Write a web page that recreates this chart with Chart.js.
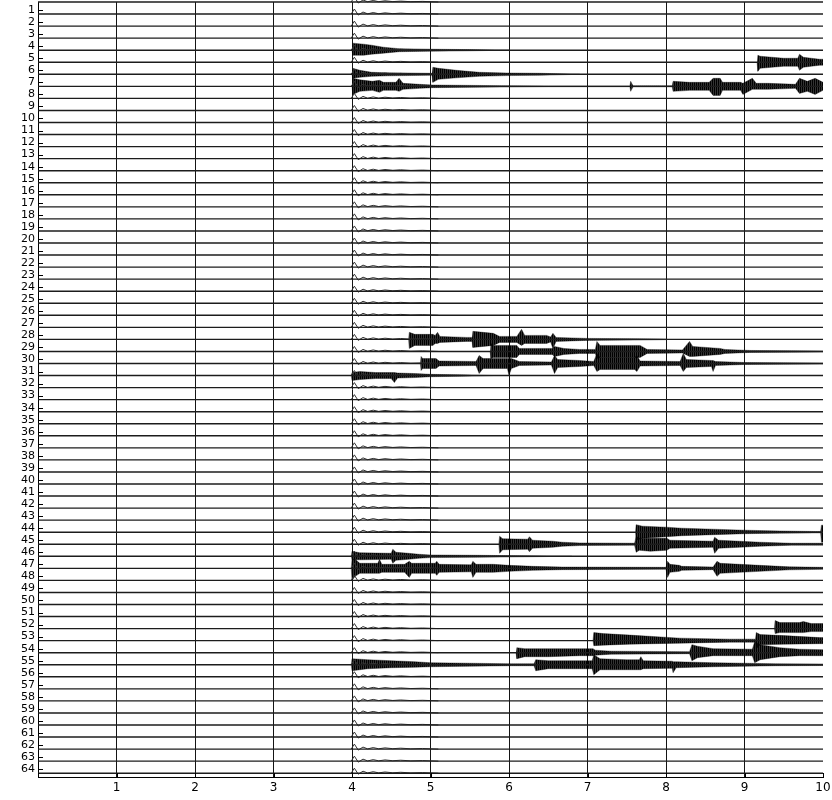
<!DOCTYPE html>
<html><head><meta charset="utf-8">
<script src="https://cdn.jsdelivr.net/npm/chart.js@4.4.0/dist/chart.umd.min.js"></script>
<style>html,body{margin:0;padding:0;background:#fff;}canvas{display:block;}</style>
</head><body>
<canvas id="c" width="832" height="800"></canvas>
<script>
// ---------- DATA ----------
// y tick labels (channels)
const channelLabels = ['1','2','3','4','5','6','7','8','9','10','11','12','13','14','15','16','17','18','19','20',
 '21','22','23','24','25','26','27','28','29','30','31','32','33','34','35','36','37','38','39','40',
 '41','42','43','44','45','46','47','48','49','50','51','52','53','54','55','56','57','58','59','60',
 '61','62','63','64'];
// x tick values and labels (seconds)
const timeTicks = [0,1,2,3,4,5,6,7,8,9,10];
const timeLabels = ['','1','2','3','4','5','6','7','8','9','10'];
// traces drawn (channel 0 is the unlabelled top trace)
const traceChannels = [0,1,2,3,4,5,6,7,8,9,10,11,12,13,14,15,16,17,18,19,20,21,22,23,24,25,26,27,28,29,30,31,32,
 33,34,35,36,37,38,39,40,41,42,43,44,45,46,47,48,49,50,51,52,53,54,55,56,57,58,59,60,61,62,63,64];
// common onset response seen on every trace (time, amplitude; + = up)
const onsetTime = [3.99,4.03,4.08,4.14,4.20,4.27,4.34,4.42,4.52,4.62,4.75,4.90,5.10];
const onsetAmp  = [0,   5,   -1,  2,   0.2, 1.5, 0.3, 1.2, 0.4, 0.9, 0.3, 0.6, 0];

// burst envelopes: [time, upper amplitude, lower amplitude]
const burstCh4 = [[4.0,0,0],[4.01,7,5],[4.15,6,5],[4.25,5,4],[4.4,3,3],[4.6,1.5,1.5],[5.0,1,1],[5.5,0.6,0.6],[6.0,0,0]];
const burstCh5 = [[9.16,0,0],[9.17,7,9],[9.2,6,6],[9.5,4,4],[9.68,4,4],[9.7,8,8],[9.75,5,5],[9.85,4,4],[9.96,3,3],[10,3,3]];
const burstCh6 = [[4.0,0,0],[4.01,6,4],[4.1,4,3],[4.25,2,2],[4.45,1.5,1.5],[5.0,1,1],[5.02,1,1],[5.03,7,8],[5.1,6,5],
 [5.33,4,3.5],[5.62,2,2],[5.97,1.3,1.3],[6.4,1,1],[6.9,0,0]];
const burstCh7 = [[4.0,0,0],[4.01,8,8],[4.1,6.5,5],[4.26,5,4],[4.35,6,6],[4.4,4,4],[4.56,4,4],[4.6,8,5],[4.65,3,3],
 [4.86,2,2],[5.03,1.3,1.3],[5.9,0.7,0.7],[6.5,0.4,0.4],[7.54,0.4,0.4],[7.55,5,5],[7.58,0.5,0.5],[8.08,0.5,0.5],
 [8.09,5,5],[8.3,4,4],[8.55,4,4],[8.6,8,9],[8.69,8,9],[8.72,4,4],[8.95,4,4],[8.98,3,8],[9.1,8,3],[9.15,3,3],
 [9.3,3,3],[9.65,2,2],[9.7,8,7],[9.8,5,5],[9.9,8,8],[10,4,4]];
const burstCh28 = [[4.72,0,0],[4.73,7,9],[4.8,5,6],[5.03,5,6],[5.06,4,4],[5.09,7,4],[5.12,3,3],[5.46,2,2],[5.53,2,2],
 [5.54,8,8],[5.8,6,6],[5.88,3,3],[6.1,3,3],[6.16,10,6],[6.2,4,4],[6.48,4,4],[6.53,2.5,2.5],[6.56,6,9],[6.6,2,2],
 [6.99,1,1],[7.6,0.7,0.7],[8.0,0.3,0.3]];
const burstCh29 = [[5.76,0,0],[5.77,8,7],[5.8,6,6],[6.1,6,6],[6.13,3,3],[6.55,3,3],[6.58,5,5],[6.7,3,3],[6.9,2,2],
 [7.1,2,2],[7.12,10,7],[7.16,6,6],[7.67,6,6],[7.76,2,2],[8.21,1.5,1.5],[8.3,10,5],[8.34,5,5],[8.69,3,3],[8.75,2,2],
 [9.07,1,1],[9.6,0.7,0.7],[10,0.5,0.5]];
const burstCh30 = [[4.87,0,0],[4.88,7,7],[4.9,5,5],[5.07,5,5],[5.11,2.5,2.5],[5.58,2,2],[5.62,8,10],[5.67,5,5],
 [5.98,5,5],[6.0,5,12],[6.03,5,5],[6.1,3,3],[6.13,2,2],[6.54,1.5,1.5],[6.58,8,10],[6.62,4,4],[6.9,3,3],[7.08,2,2],
 [7.12,10,8],[7.16,6,6],[7.6,6,6],[7.63,8,8],[7.67,2.5,2.5],[8.18,2,2],[8.22,10,8],[8.26,4,4],[8.58,3,3],[8.6,3,8],
 [8.63,2,2],[9.0,1,1],[9.5,0.7,0.7],[10,0.5,0.5]];
const burstCh31 = [[3.99,0,0],[4.0,3,5],[4.1,4,4],[4.3,3,3],[4.5,3,3],[4.54,3,7],[4.58,2.5,2.5],[4.8,2,2],
 [5.0,1.2,1.2],[5.4,0.7,0.7],[5.8,0,0]];
const burstCh44 = [[7.61,0,0],[7.62,7.5,8],[7.7,6,6],[8.0,5,4.5],[8.2,4,3.5],[8.6,3,2.5],[9.0,2,1.5],[9.45,1.2,1],
 [9.9,0.7,0.7],[9.97,0.7,0.7],[9.98,7,10],[10,7,10]];
const burstCh45 = [[5.87,0,0],[5.88,8,9],[5.92,5.5,5.5],[6.24,5,5],[6.26,7.5,7.5],[6.3,4,4],[6.56,3,3],[6.68,2,2],
 [6.9,1.3,1.3],[7.6,1,1],[7.62,8,8],[7.66,6,6],[7.8,6,7],[8.01,6,6],[8.05,4,4],[8.6,3,3],[8.62,7,9],[8.67,4,4],
 [8.94,3,3],[9.2,2,2],[9.6,1,1],[10,1,1]];
const burstCh46 = [[3.99,0,0],[4.0,5,3.5],[4.1,3.5,3.5],[4.5,3,3],[4.52,7,7],[4.56,4,4],[4.72,3,3],[4.85,2,2],
 [5.0,1.3,1.3],[5.6,1,1],[6.2,0.5,0.5],[6.8,0,0]];
const burstCh47 = [[3.99,0,0],[4.0,9,12],[4.04,9,8],[4.1,5,5],[4.33,5,5],[4.35,9,5],[4.38,4,4],[4.67,4,4],[4.73,7,9],
 [4.76,5,5],[5.06,5,5],[5.08,7,7],[5.11,4,4],[5.52,3.5,3.5],[5.54,7,9],[5.58,4,4],[5.8,4,4],[6.0,3,3],[6.3,2,2],
 [6.68,1.3,1.3],[8.0,1,1],[8.02,7,9],[8.05,4,4],[8.17,3,3],[8.2,2,2],[8.6,1.3,1.3],[8.65,7,8],[8.69,5,5],[8.94,4,4],
 [9.57,1.5,1.5],[10,1,1]];
const burstCh52 = [[9.38,0,0],[9.39,8,5],[9.45,6,4],[9.7,6,4],[9.75,7,4],[9.85,5,3],[10,5,3]];
const burstCh53 = [[7.07,0,0],[7.08,8,5],[7.2,7,4.5],[7.54,5.5,3.5],[8.18,2.5,2.5],[8.81,1.5,1.5],[9.14,1.5,1.5],
 [9.15,8,8],[9.2,6,4],[9.5,5,3.5],[9.96,3,3],[10,3,3]];
const burstCh54 = [[6.09,0,0],[6.1,5,6],[6.2,4,4],[6.5,4,4],[6.9,4,3],[7.07,4,3],[7.1,2.5,2.5],[7.3,1.5,1.5],
 [8.3,1,1],[8.33,8,8],[8.4,6.5,5],[8.6,4,3],[9.1,3.5,3],[9.13,11,10],[9.2,8,7],[9.45,5,4],[9.7,3.5,3],[10,3,3]];
const burstCh55 = [[3.99,0,0],[4.0,6,6],[4.2,5,4],[4.5,4,3],[4.8,3,2.5],[5.0,2,2],[5.5,1.5,1.5],[6.0,1,1],[6.32,1,1],
 [6.34,5,6],[6.5,4,4],[6.9,4,4],[7.06,4,4],[7.08,10,10],[7.16,6,5],[7.5,5,5],[7.66,5,5],[7.68,8,5],[7.71,4,4],
 [8.08,3.5,3.5],[8.09,3,8],[8.13,3,3],[8.6,2,2],[9.0,1.5,1.5],[9.4,1,1],[10,0.8,0.8]];

const burstChannels = [4,5,6,7,28,29,30,31,44,45,46,47,52,53,54,55];
const burstEnvelopes = [burstCh4,burstCh5,burstCh6,burstCh7,burstCh28,burstCh29,burstCh30,burstCh31,
 burstCh44,burstCh45,burstCh46,burstCh47,burstCh52,burstCh53,burstCh54,burstCh55];

// ---------- RENDER ----------
const GAIN = 12;          // amplitude units per channel spacing
const TRACE_OFFSET = 1/3; // trace baseline sits a third of a row below its label

const canvas = document.getElementById('c');
const ctx0 = canvas.getContext('2d');
function makePattern(){
  const c = document.createElement('canvas'); c.width = 2; c.height = 1;
  const g = c.getContext('2d');
  g.fillStyle = '#000'; g.fillRect(0,0,1,1);
  g.fillStyle = 'rgba(0,0,0,0.8)'; g.fillRect(1,0,1,1);
  return ctx0.createPattern(c,'repeat');
}
const pattern = makePattern();

const datasets = [];
traceChannels.forEach(ch => {
  const base = ch + TRACE_OFFSET;
  // continuous baseline
  datasets.push({data:[{x:0, y:base},{x:10, y:base}], borderColor:'#1c1c1c', borderWidth:1.4,
    pointRadius:0, fill:false, clip:false, tension:0});
  // thin onset response on top
  datasets.push({data:onsetTime.map((t,i) => ({x:t, y:base - onsetAmp[i]/GAIN})), borderColor:'#333',
    borderWidth:1, pointRadius:0, fill:false, clip:false, tension:0});
});
burstChannels.forEach((ch,bi) => {
  const env = burstEnvelopes[bi];
  const base = ch + TRACE_OFFSET;
  datasets.push({data:env.map(p => ({x:p[0], y:base - p[1]/GAIN})), borderColor:'rgba(0,0,0,0.6)', borderWidth:0.6,
    pointRadius:0, fill:false, tension:0});
  datasets.push({data:env.map(p => ({x:p[0], y:base + p[2]/GAIN})), borderColor:'rgba(0,0,0,0.6)', borderWidth:0.6,
    pointRadius:0, fill:'-1', backgroundColor:pattern, tension:0});
});

const inwardTicks = {
  id:'inwardTicks',
  afterDatasetsDraw(chart){
    const {ctx, chartArea:a, scales} = chart;
    ctx.save(); ctx.strokeStyle = '#000'; ctx.lineWidth = 1; ctx.beginPath();
    scales.y.ticks.forEach(t => { const y = Math.round(scales.y.getPixelForValue(t.value)) + 0.5;
      ctx.moveTo(a.left, y); ctx.lineTo(a.left + 5, y); });
    scales.x.ticks.forEach(t => { const x = Math.round(scales.x.getPixelForValue(t.value)) + 0.5;
      ctx.moveTo(x, a.bottom); ctx.lineTo(x, a.bottom - 4); });
    ctx.stroke(); ctx.restore();
  }
};

new Chart(canvas, {
  type:'line',
  data:{datasets},
  plugins:[inwardTicks],
  options:{
    responsive:false, animation:false, devicePixelRatio:1,
    layout:{padding:{top:2,right:9,left:0,bottom:0}, autoPadding:false},
    plugins:{legend:{display:false}, tooltip:{enabled:false}},
    scales:{
      x:{type:'linear', min:0, max:10,
        afterBuildTicks:s => { s.ticks = timeTicks.map(v => ({value:v})); },
        afterFit:s => { s.height = 23; s.paddingLeft = 0; s.paddingRight = 0; },
        ticks:{callback:(v,i) => timeLabels[i], autoSkip:false, maxRotation:0, padding:4,
          color:'#000', font:{family:'DejaVu Sans', size:12}},
        grid:{drawTicks:false, lineWidth:1,
          color:c => (c.tick && (c.tick.value === 10 || c.tick.value === 0)) ? 'rgba(0,0,0,0)' : '#151515'},
        border:{display:true, color:'#000', width:1}
      },
      y:{type:'linear', reverse:true, min:1/3, max:64.65,
        afterBuildTicks:s => { s.ticks = channelLabels.map((l,i) => ({value:i+1})); },
        afterFit:s => { s.width = 38; s.paddingTop = 0; s.paddingBottom = 0; },
        ticks:{callback:(v,i) => channelLabels[i], autoSkip:false, padding:3,
          color:'#000', font:{family:'DejaVu Sans', size:11}},
        grid:{display:false, drawTicks:false},
        border:{display:true, color:'#000', width:1}
      }
    }
  }
});
</script>
</body></html>
